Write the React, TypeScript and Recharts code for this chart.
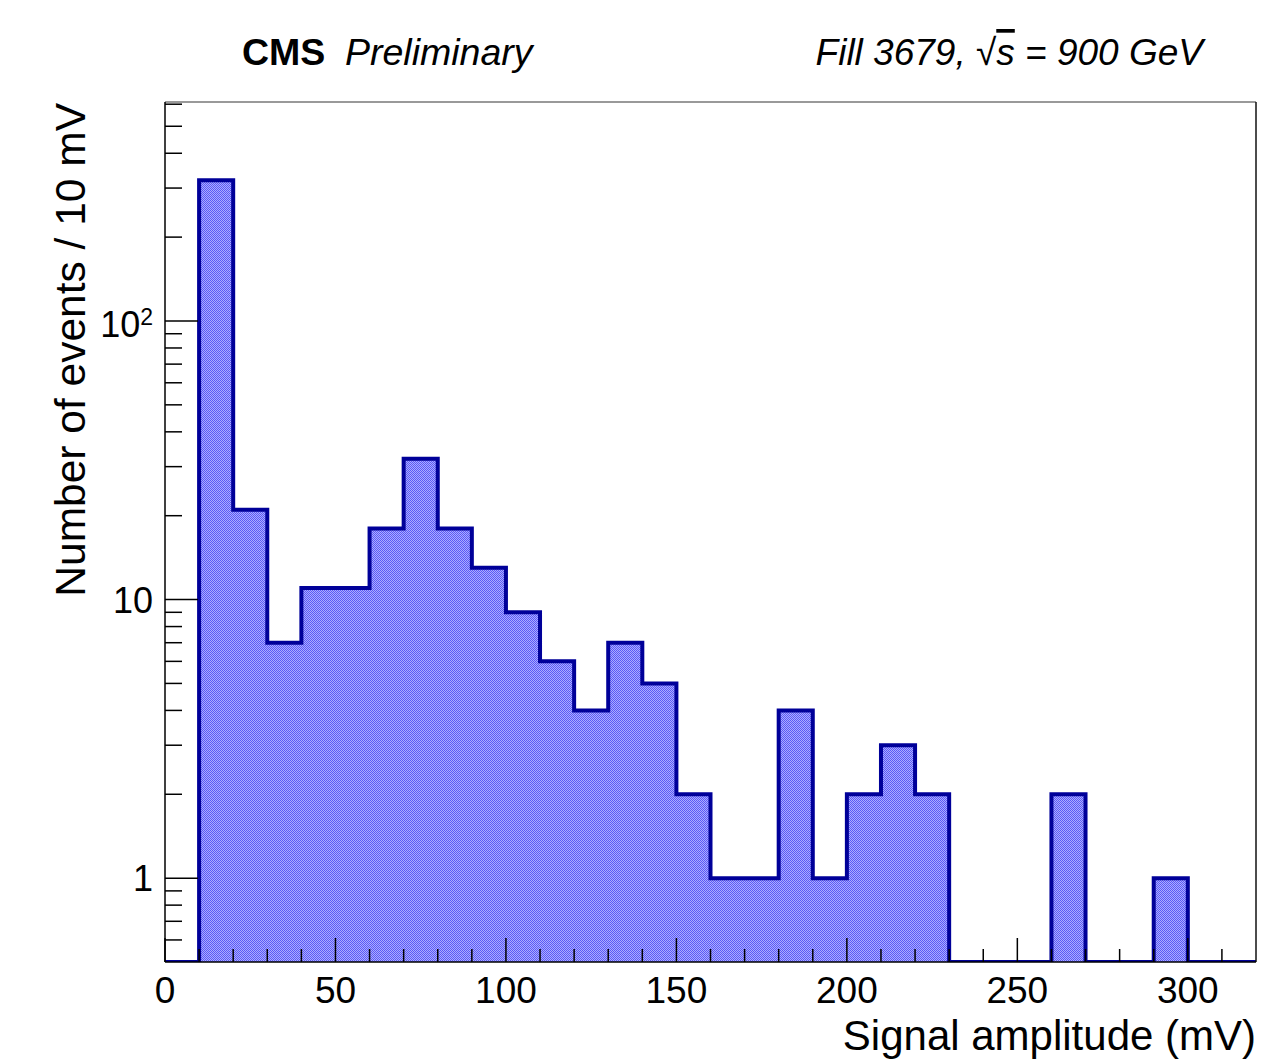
import { Area, ComposedChart, ReferenceLine, XAxis, YAxis } from "recharts";

// lower bin edges (mV) and entries per 10 mV bin
const binLow = [
  0, 10, 20, 30, 40, 50, 60, 70, 80, 90, 100, 110, 120, 130, 140, 150, 160,
  170, 180, 190, 200, 210, 220, 230, 240, 250, 260, 270, 280, 290, 300, 310,
];
const counts = [
  0, 320, 21, 7, 11, 11, 18, 32, 18, 13, 9, 6, 4, 7, 5, 2, 1, 1, 4, 1, 2, 3, 2,
  0, 0, 0, 2, 0, 0, 1, 0, 0,
];

const xMajorTicks = [0, 50, 100, 150, 200, 250, 300];
const yTicks = [
  0.6, 0.7, 0.8, 0.9, 1, 2, 3, 4, 5, 6, 7, 8, 9, 10, 20, 30, 40, 50, 60, 70,
  80, 90, 100, 200, 300, 400, 500, 600,
];
const yMajorTicks = [1, 10, 100];

const X_MAX = 320;
const Y_MIN = 0.5;
const Y_MAX = 611;

const W = 1261;
const H = 1061;
const FONT = '"Liberation Sans", Arial, Helvetica, sans-serif';
const X_TICK_MARGIN = 10;
const Y_TICK_MARGIN = 10;

// empty bins sit on the frame floor, like ROOT draws them
const histData = [
  ...binLow.map((x, i) => ({ x, y: counts[i] > 0 ? counts[i] : Y_MIN })),
  {
    x: X_MAX,
    y: counts[counts.length - 1] > 0 ? counts[counts.length - 1] : Y_MIN,
  },
];

function XTick(props: any) {
  const { x, y, payload } = props;
  const v = payload.value;
  const major = xMajorTicks.includes(v);
  const axisY = y - X_TICK_MARGIN;
  return (
    <g>
      <line
        x1={x}
        x2={x}
        y1={axisY}
        y2={axisY - (major ? 24 : 13)}
        stroke="#000"
        strokeWidth={1.5}
      />
      {major && (
        <text
          x={x}
          y={axisY + 41}
          textAnchor="middle"
          fontSize={37}
          fontFamily={FONT}
          fill="#000"
        >
          {v}
        </text>
      )}
    </g>
  );
}

function YTick(props: any) {
  const { x, y, payload } = props;
  const v = payload.value;
  const major = yMajorTicks.includes(v);
  const axisX = x + Y_TICK_MARGIN;
  return (
    <g>
      <line
        x1={axisX}
        x2={axisX + (major ? 33 : 17)}
        y1={y}
        y2={y}
        stroke="#000"
        strokeWidth={1.5}
      />
      {major &&
        (v === 100 ? (
          <text
            x={axisX - 12}
            y={y + 16}
            textAnchor="end"
            fontSize={36}
            fontFamily={FONT}
            fill="#000"
          >
            10
            <tspan dy={-12} fontSize={23}>
              2
            </tspan>
          </text>
        ) : (
          <text
            x={axisX - 12}
            y={y + 13}
            textAnchor="end"
            fontSize={36}
            fontFamily={FONT}
            fill="#000"
          >
            {v}
          </text>
        ))}
    </g>
  );
}

export default function App() {
  return (
    <div
      style={{
        position: "absolute",
        left: 0,
        top: 0,
        width: W,
        height: H,
        overflow: "hidden",
        background: "#fff",
      }}
    >
      <ComposedChart
        width={W}
        height={H}
        data={histData}
        margin={{ top: 102, right: 5, bottom: 0, left: 0 }}
      >
        <defs>
          <pattern
            id="hatch"
            width={2}
            height={2}
            patternUnits="userSpaceOnUse"
          >
            <rect width={2} height={2} fill="#acacff" />
            <rect width={1} height={1} fill="#5a5af6" />
            <rect x={1} y={1} width={1} height={1} fill="#5a5af6" />
          </pattern>
        </defs>
        <XAxis
          dataKey="x"
          type="number"
          domain={[0, X_MAX]}
          ticks={binLow}
          interval={0}
          height={99}
          tickSize={0}
          tickMargin={X_TICK_MARGIN}
          tick={XTick}
          axisLine={{ stroke: "#000", strokeWidth: 1.5 }}
        />
        <YAxis
          scale="log"
          type="number"
          domain={[Y_MIN, Y_MAX]}
          allowDataOverflow
          ticks={yTicks}
          interval={0}
          width={165}
          tickSize={0}
          tickMargin={Y_TICK_MARGIN}
          tick={YTick}
          axisLine={{ stroke: "#000", strokeWidth: 1.5 }}
        />
        <ReferenceLine y={Y_MAX} stroke="#777" strokeWidth={1.5} />
        <ReferenceLine x={X_MAX} stroke="#111" strokeWidth={1.5} />
        <Area
          dataKey="y"
          type="stepAfter"
          baseValue={Y_MIN}
          stroke="#000099"
          strokeWidth={4}
          fill="url(#hatch)"
          fillOpacity={1}
          dot={false}
          activeDot={false}
          isAnimationActive={false}
        />
      </ComposedChart>
      <svg
        width={W}
        height={H}
        style={{ position: "absolute", left: 0, top: 0, pointerEvents: "none" }}
        fontFamily={FONT}
      >
        <text x={242} y={65} fontSize={37.5} fontWeight="bold" fill="#000">
          CMS
        </text>
        <text x={345} y={65} fontSize={37.5} fontStyle="italic" fill="#000">
          Preliminary
        </text>
        <text
          x={1203}
          y={65}
          fontSize={37}
          fontStyle="italic"
          textAnchor="end"
          fill="#000"
        >
          Fill 3679, √
          <tspan style={{ textDecoration: "overline" }}>s</tspan> = 900 GeV
        </text>
        <text x={1256} y={1050} fontSize={42} textAnchor="end" fill="#000">
          Signal amplitude (mV)
        </text>
        <text
          transform="translate(85,103) rotate(-90)"
          fontSize={42.5}
          textAnchor="end"
          fill="#000"
        >
          Number of events / 10 mV
        </text>
      </svg>
    </div>
  );
}
